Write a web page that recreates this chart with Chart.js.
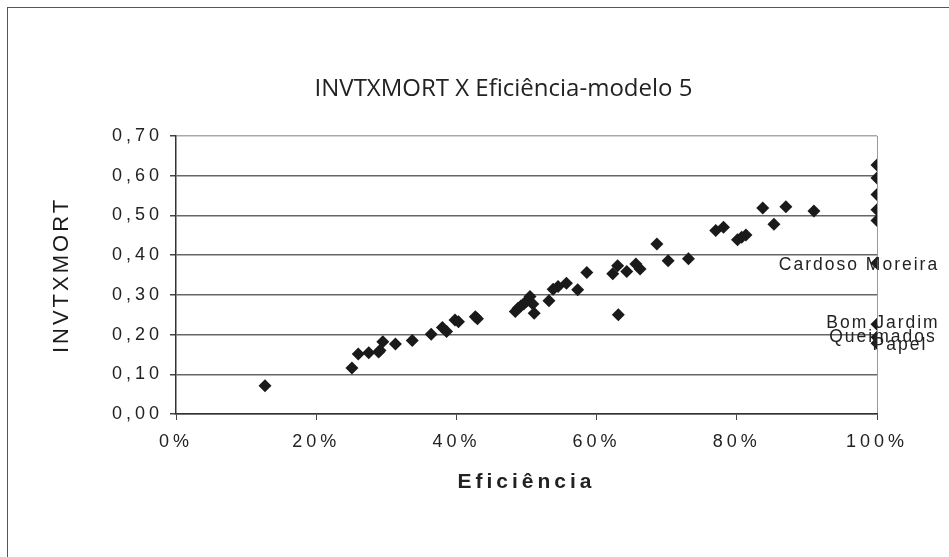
<!DOCTYPE html>
<html>
<head>
<meta charset="utf-8">
<script src="https://cdn.jsdelivr.net/npm/chart.js@4.4.1/dist/chart.umd.min.js"></script>
<style>
  html, body { margin: 0; padding: 0; background: #fff; }
  #wrap { width: 949px; height: 557px; }
</style>
</head>
<body>
<div id="wrap"><canvas id="ChartEficiencia" width="949" height="557"></canvas></div>
<script>
// eficiência (%) and INVTXMORT of each municipality
var eficiencia = [12.7, 25.1, 26.0, 27.5, 28.9, 29.1, 29.5, 31.3, 33.7, 36.4,
    38.0, 38.6, 39.8, 40.3, 42.7, 43.0, 48.4, 48.8, 49.2, 49.6,
    50.0, 50.5, 50.9, 51.1, 53.2, 53.8, 54.5, 55.7, 57.3, 58.6,
    62.3, 63.0, 64.3, 65.6, 66.2, 63.1, 68.6, 70.2, 73.1, 77.0,
    78.1, 80.1, 80.7, 81.3, 83.7, 85.3, 87.0, 91.0, 100, 100,
    100, 100, 100];
var invtxmort = [0.071, 0.116, 0.151, 0.154, 0.156, 0.160, 0.182, 0.176, 0.185, 0.201,
    0.218, 0.208, 0.237, 0.232, 0.245, 0.240, 0.258, 0.266, 0.272, 0.277,
    0.284, 0.296, 0.277, 0.254, 0.285, 0.314, 0.321, 0.329, 0.313, 0.356,
    0.353, 0.373, 0.359, 0.378, 0.365, 0.250, 0.428, 0.386, 0.391, 0.462,
    0.470, 0.439, 0.445, 0.451, 0.519, 0.478, 0.522, 0.511, 0.627, 0.594,
    0.553, 0.514, 0.487];

// the labelled municipalities
var municipios = ['Cardoso Moreira', 'Bom Jardim', 'Queimados', 'Papel'];
var municipiosEficiencia = [100, 100, 100, 100];
var municipiosInvtxmort = [0.380, 0.226, 0.193, 0.178];

var xTickValues = [0, 20, 40, 60, 80, 100];
var yTickValues = [0, 0.1, 0.2, 0.3, 0.4, 0.5, 0.6, 0.7];

function GetPoints(xs, ys) {
    return xs.map(function (x, i) { return { x: x, y: ys[i] }; });
}

// letter spacing per font (size, 'b' = bold), Excel style spaced text
var spacing = { '18': '4px', '17.5': '2px', 'b21': '4px', '22': '3px' };

var spacedText = {
    id: 'spacedText',
    beforeInit: function (chart) {
        var ctx = chart.ctx;
        var fill = ctx.fillText.bind(ctx);
        ctx.fillText = function (text, x, y, w) {
            var m = /(\d+(?:\.\d+)?)px/.exec(ctx.font);
            var key = m ? (/bold|700/.test(ctx.font) ? 'b' : '') + m[1] : '';
            ctx.letterSpacing = spacing[key] || '0px';
            if (w === undefined) fill(text, x, y); else fill(text, x, y, w);
            ctx.letterSpacing = '0px';
        };
    }
};

var frame = {
    id: 'frame',
    beforeDraw: function (chart) {
        var ctx = chart.ctx;
        ctx.save();
        ctx.fillStyle = '#fff';
        ctx.fillRect(0, 0, chart.width, chart.height);
        ctx.strokeStyle = '#555';
        ctx.lineWidth = 1;
        ctx.strokeRect(7.5, 7.5, 1200, 1200);
        ctx.restore();
    }
};

// where each name sits relative to its point
var labelShift = { 'Cardoso Moreira': [-19, 2], 'Bom Jardim': [5, -1], 'Queimados': [5, 0], 'Papel': [22, 2] };

var pointNames = {
    id: 'pointNames',
    afterDatasetsDraw: function (chart) {
        var ctx = chart.ctx;
        var meta = chart.getDatasetMeta(1);
        ctx.save();
        ctx.font = "17.5px 'Liberation Sans'";
        ctx.fillStyle = '#222';
        ctx.textAlign = 'center';
        ctx.textBaseline = 'middle';
        meta.data.forEach(function (pt, i) {
            var name = municipios[i];
            var s = labelShift[name] || [0, 0];
            ctx.fillText(name, pt.x + s[0] + 1, pt.y + s[1]);
        });
        ctx.restore();
    }
};

new Chart(document.getElementById('ChartEficiencia'), {
    type: 'scatter',
    data: {
        datasets: [{
            label: 'INVTXMORT',
            data: GetPoints(eficiencia, invtxmort),
            backgroundColor: '#1a1a1a',
            borderWidth: 0,
            pointStyle: 'rectRot',
            pointRadius: 6.5
        }, {
            label: 'Municípios',
            data: GetPoints(municipiosEficiencia, municipiosInvtxmort),
            backgroundColor: '#1a1a1a',
            borderWidth: 0,
            pointStyle: 'rectRot',
            pointRadius: 6.5
        }]
    },
    options: {
        responsive: false,
        animation: false,
        devicePixelRatio: 1,
        layout: { padding: { left: 58, right: 0, top: 0, bottom: 0 } },
        plugins: {
            legend: { display: false },
            tooltip: { enabled: false },
            title: {
                display: true,
                text: 'INVTXMORT X Eficiência-modelo 5',
                color: '#222',
                font: { family: "'Open Sans'", size: 24, weight: 'normal' },
                padding: { top: 75, bottom: 32.2 }
            }
        },
        scales: {
            x: {
                type: 'linear',
                min: 0,
                max: 100,
                afterBuildTicks: function (s) { s.ticks = xTickValues.map(function (v) { return { value: v }; }); },
                afterFit: function (s) { s.height = 143; },
                ticks: {
                    color: '#222',
                    padding: 11,
                    font: { family: "'Liberation Sans'", size: 18 },
                    callback: function (v) { return v + '%'; }
                },
                grid: {
                    drawOnChartArea: true,
                    color: function (c) { return c.tick && c.tick.value === 100 ? '#999' : 'rgba(0,0,0,0)'; },
                    tickColor: '#444',
                    tickLength: 6
                },
                border: { color: '#333', width: 1.5 },
                title: {
                    display: true,
                    text: 'Eficiência',
                    color: '#222',
                    font: { family: "'Liberation Sans'", size: 21, weight: 'bold' },
                    padding: { top: 0, bottom: 62.4 }
                }
            },
            y: {
                min: 0,
                max: 0.7,
                afterBuildTicks: function (s) { s.ticks = yTickValues.map(function (v) { return { value: v }; }); },
                afterFit: function (s) { s.width = 118; },
                ticks: {
                    color: '#222',
                    padding: 7,
                    font: { family: "'Liberation Sans'", size: 18 },
                    callback: function (v) { return v.toFixed(2).replace('.', ','); }
                },
                grid: {
                    color: function (c) { return c.tick && Math.abs(c.tick.value - 0.7) < 1e-6 ? '#aaa' : '#666'; },
                    lineWidth: 1.5,
                    tickColor: '#444',
                    tickLength: 6
                },
                border: { color: '#333', width: 1.5 },
                title: {
                    display: true,
                    text: 'INVTXMORT',
                    color: '#1a1a1a',
                    font: { family: "'Liberation Sans'", size: 22, weight: 'normal' },
                    padding: { top: -9, bottom: 0 }
                }
            },
            y2: {
                position: 'right',
                display: true,
                afterFit: function (s) { s.width = 72; },
                ticks: { display: false },
                grid: { display: false },
                border: { display: false }
            }
        }
    },
    plugins: [spacedText, frame, pointNames]
});
</script>
</body>
</html>
